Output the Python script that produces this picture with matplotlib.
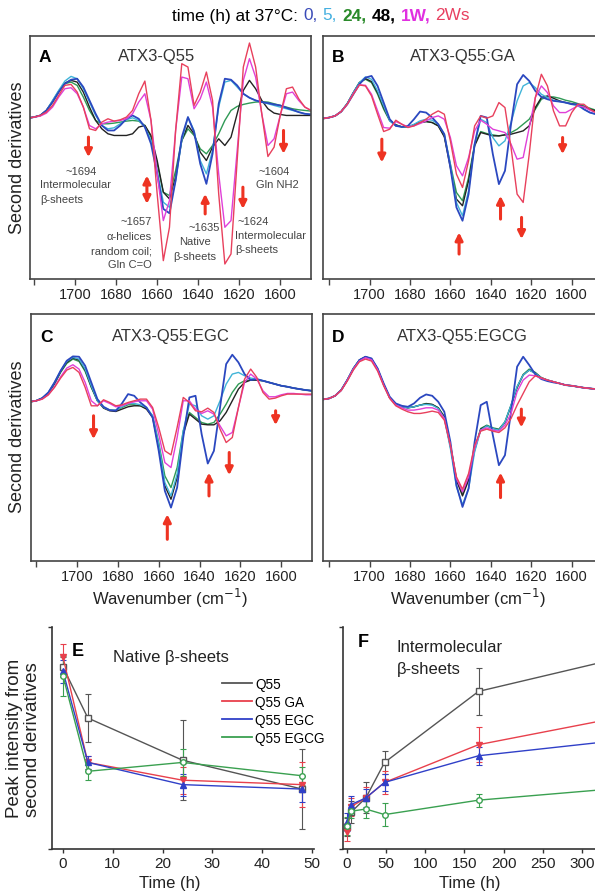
import numpy as np
import matplotlib
matplotlib.use("Agg")
import matplotlib.pyplot as plt
from matplotlib.lines import Line2D

plt.rcParams['font.family'] = ['Liberation Sans', 'DejaVu Sans']

# ---------------- data ----------------
# second-derivative spectra (arbitrary units, baseline = 0)
wavenumber = np.arange(1723, 1584, -3)   # 1723 ... 1585 cm-1
times = ['0', '5', '24', '48', '1W', '2Ws']

A_0h  = [-3, 0,5,20,45,75,100,112,115,90,50, 10,-25,-40,-40,-25,-5,5,-5,-30,-80, -170,-275,-288,-190,-60,0,-45,-140,-200,-110, 40,115,112,95,70,58,50,45,42,38, 35,28,22,15,10,8]
A_5h  = [-3, 0,5,20,50,80,108,122,115,85,45, 5,-25,-35,-32,-20,-8,-2,-10,-30,-70, -160,-255,-270,-190,-70,0,-40,-130,-170,-100, 30,105,110,90,70,58,50,45,40,35, 30,25,20,15,10,8]
A_24h = [-3, 0,5,20,45,75,100,105,95,60,20, -10,-20,-20,-18,-15,-12,-10,-12,-25,-60, -140,-225,-235,-160,-70,-35,-55,-95,-110,-85, -50,-10,20,32,38,42,45,46,45,40, 35,30,25,22,20,18]
A_48h = [-3, 0,5,20,48,78,102,110,105,75,30, -10,-35,-50,-55,-55,-55,-50,-30,-25,-55, -130,-225,-245,-180,-70,-25,-50,-105,-130,-90, -65,-85,-60,10,80,110,85,50,25,12, 8,5,5,5,5,5]
A_1W  = [-3, 0,3,12,30,60,85,88,70,30,-25, -35,-20,-15,-12,-10,-5,10,45,70,-10, -170,-310,-250,-40,120,115,25,55,105,30, -170,-330,-310,-100,110,175,120,10,-85,-65, 5,70,75,50,30,20]
A_2Ws = [-3, 0,5,15,35,65,95,98,75,30,-35, -40,-15,-5,-12,-8,0,20,70,108,-10, -230,-430,-330,-40,160,150,35,75,135,50, -230,-440,-410,-130,150,222,150,10,-118,-90, 5,85,90,55,30,20]

B_0h  = [-3, 0,5,18,40,70,100,120,125,95,45, -5,-25,-28,-25,-5,18,15,0,-20,-50, -150,-270,-310,-230,-80,5,0,-110,-200,-160, -20,100,128,110,80,62,55,50,48,45, 40,40,25,15,10,5]
B_5h  = [-3, 0,5,18,42,75,105,122,115,80,35, -10,-25,-28,-28,-20,-10,-5,-8,-20,-50, -140,-255,-295,-220,-80,-5,-15,-60,-85,-70, -15,50,95,105,90,70,60,52,48,45, 40,35,25,15,10,5]
B_24h = [-3, 0,5,18,42,75,105,115,105,70,25, -10,-22,-28,-28,-22,-15,-12,-15,-25,-55, -140,-225,-250,-180,-80,-42,-48,-52,-55,-52, -45,-35,-20,-5,25,55,62,62,58,52, 48,42,35,28,22,15]
B_48h = [-3, 0,5,18,42,75,105,117,108,75,30, -8,-22,-28,-28,-22,-15,-12,-15,-25,-58, -150,-245,-265,-190,-85,-45,-50,-55,-55,-52, -50,-45,-40,-25,30,60,65,58,50,45, 42,38,32,25,20,15]
B_1W  = [-3, 0,5,18,40,72,98,97,70,20,-30, -32,-12,-20,-28,-25,-18,-10,0,5,-5, -60,-145,-175,-120,-40,-8,-20,-35,-40,-45, -80,-125,-120,-30,60,95,75,35,15,15, 25,35,32,22,15,10]
B_2Ws = [-3, 0,5,18,40,70,98,95,65,10,-42, -35,-8,-20,-30,-25,-15,-5,10,20,10, -70,-170,-210,-130,-25,5,-2,5,45,30, -90,-230,-255,-110,60,130,95,20,-25,-25, 15,40,40,25,15,10]

C_0h  = [-3, 0,8,25,55,90,120,133,132,105,55, 5,-18,-28,-30,-8,20,15,-5,-20,-50, -150,-270,-320,-260,-110,10,15,-100,-188,-150, -20,110,138,115,80,62,65,60,55,50, 45,42,38,35,32,30]
C_5h  = [-3, 0,8,25,55,90,118,130,125,95,45, 0,-20,-28,-28,-18,-8,-8,-12,-20,-45, -130,-245,-285,-220,-90,-10,-15,-45,-55,-45, 0,50,80,85,75,68,65,60,55,50, 45,42,38,35,32,30]
C_24h = [-3, 0,8,22,50,85,112,125,118,88,40, 0,-20,-28,-28,-20,-12,-12,-15,-22,-45, -125,-225,-260,-200,-90,-35,-50,-65,-70,-65, -40,-10,25,50,60,62,62,60,55,50, 45,42,38,35,32,30]
C_48h = [-3, 0,8,24,52,88,115,128,122,92,42, 0,-22,-30,-32,-25,-18,-15,-15,-25,-50, -140,-255,-295,-230,-100,-40,-55,-70,-72,-72, -60,-35,0,35,55,62,62,60,55,50, 45,42,38,35,32,30]
C_1W  = [-3, 0,5,18,42,72,98,108,95,55,0, -15,0,-8,-18,-15,-8,-3,0,0,-25, -100,-185,-200,-110,0,0,-25,-38,-30,-40, -75,-105,-95,-20,55,80,65,30,12,12, 18,22,22,20,18,18]
C_2Ws = [-3, 0,5,18,40,68,92,100,85,40,-15, -15,3,-5,-15,-12,-5,0,5,5,-20, -80,-150,-162,-80,10,-5,-30,-33,-22,-35, -85,-125,-110,-20,65,95,70,25,5,8, 15,20,20,20,20,20]

D_0h  = [-3, 0,8,25,55,88,115,125,120,90,45, 5,-15,-22,-25,-15,2,12,8,-10,-40, -130,-260,-325,-270,-130,-20,-10,-110,-200,-170, -40,95,125,100,72,58,52,48,45,40, 38,35,32,30,28,27]
D_5h  = [-3, 0,8,25,55,90,115,124,118,88,42, 2,-18,-25,-28,-25,-20,-18,-20,-30,-60, -150,-265,-318,-270,-160,-95,-82,-90,-95,-70, -20,35,70,85,75,62,55,50,45,40, 38,35,32,30,28,27]
D_24h = [-3, 0,8,25,55,90,115,124,118,88,42, 2,-18,-25,-28,-25,-20,-15,-18,-28,-55, -140,-240,-287,-240,-150,-90,-80,-88,-92,-70, -20,35,72,88,78,62,55,50,45,40, 38,35,32,30,28,27]
D_48h = [-3, 0,8,25,55,90,115,125,118,88,42, 2,-18,-25,-28,-25,-20,-16,-18,-28,-55, -145,-245,-292,-245,-155,-92,-82,-90,-94,-72, -22,32,70,85,76,62,55,50,45,40, 38,35,32,30,28,27]
D_1W  = [-3, 0,8,24,54,88,112,122,116,86,40, 1,-20,-28,-35,-35,-32,-28,-28,-35,-60, -140,-240,-280,-235,-148,-95,-88,-95,-98,-80, -45,20,55,70,68,60,55,50,45,40, 38,35,32,30,28,27]
D_2Ws = [-3, 0,8,24,52,85,110,118,112,82,38, 0,-22,-32,-40,-45,-45,-42,-38,-42,-65, -140,-235,-272,-225,-140,-98,-92,-98,-102,-88, -60,-20,15,50,68,62,55,50,45,40, 38,35,32,30,28,27]

# peak intensities vs time
time_E = [0, 5, 24, 48]
E_Q55 = [0.82, 0.59, 0.40, 0.27];   E_Q55_err = [0.045, 0.11, 0.18, 0.18]
E_GA = [0.865, 0.39, 0.31, 0.29];   E_GA_err = [0.06, 0.03, 0.06, 0.10]
E_EGC = [0.80, 0.39, 0.29, 0.27];   E_EGC_err = [0.05, 0.03, 0.05, 0.06]
E_EGCG = [0.78, 0.35, 0.39, 0.33];  E_EGCG_err = [0.09, 0.04, 0.06, 0.04]

time_F = [0, 5, 24, 48, 168, 336]
F_Q55 = [0.10, 0.165, 0.23, 0.39, 0.71, 0.85];   F_Q55_err = [0.04, 0.05, 0.07, 0.05, 0.105, 0.10]
F_GA = [0.075, 0.19, 0.23, 0.30, 0.47, 0.585];   F_GA_err = [0.04, 0.04, 0.05, 0.05, 0.08, 0.08]
F_EGC = [0.12, 0.20, 0.23, 0.30, 0.42, 0.485];   F_EGC_err = [0.04, 0.04, 0.04, 0.04, 0.04, 0.05]
F_EGCG = [0.105, 0.17, 0.18, 0.155, 0.22, 0.27]; F_EGCG_err = [0.04, 0.03, 0.04, 0.05, 0.03, 0.03]

sample_names = ['Q55', 'Q55 GA', 'Q55 EGC', 'Q55 EGCG']

# ---------------- style ----------------
spec_colors = {'0': '#2b48c0', '5': '#40b4d8', '24': '#2f9a55', '48': '#222222',
               '1W': '#e040d8', '2Ws': '#e8405c'}
draw_order = ['24', '48', '5', '0', '1W', '2Ws']
sample_colors = ['#555555', '#e8404c', '#3040c8', '#3aa050']
sample_markers = ['s', 'v', '^', 'o']
sample_fill = ['white', None, None, 'white']
RED = '#ee3322'
TXT = '#222222'

W, H = 595, 895
fig = plt.figure(figsize=(W / 100, H / 100), dpi=100)


def px_axes(l, t, r, b):
    return fig.add_axes([l / W, 1 - b / H, (r - l) / W, (b - t) / H])


def ftext(x, y, s, **kw):
    kw.setdefault('color', TXT)
    return fig.text(x / W, 1 - y / H, s, **kw)


def arrow(ax, w, v_tail, v_head, style='-|>'):
    ax.annotate('', xy=(w, v_head), xytext=(w, v_tail),
                arrowprops=dict(arrowstyle=style, color=RED, lw=2.2,
                                mutation_scale=11, shrinkA=0, shrinkB=0))


def spectrum_panel(box, data, xlim, ylim, letter, title, title_x, text_y):
    ax = px_axes(*box)
    for k in draw_order:
        ax.plot(wavenumber, data[k], color=spec_colors[k],
                lw=1.3 if k == '0' else 1.0, solid_joinstyle='round')
    ax.set_xlim(*xlim)
    ax.set_ylim(*ylim)
    ax.set_yticks([])
    ax.set_xticks([1720, 1700, 1680, 1660, 1640, 1620, 1600])
    ax.set_xticklabels(['', '1700', '1680', '1660', '1640', '1620', '1600'])
    ax.tick_params(axis='x', direction='out', length=4, width=1, pad=1.5,
                   labelsize=10.5, color='#444444', labelcolor=TXT)
    for s in ax.spines.values():
        s.set_color('#444444')
        s.set_linewidth(1.2)
    ftext(box[0] + 9, text_y, letter, fontsize=12.5, fontweight='bold',
          color='black', va='center')
    ftext(title_x, text_y, title, fontsize=12, ha='center', va='center',
          color='#333333')
    return ax


sets = {
    'A': dict(zip(times, [A_0h, A_5h, A_24h, A_48h, A_1W, A_2Ws])),
    'B': dict(zip(times, [B_0h, B_5h, B_24h, B_48h, B_1W, B_2Ws])),
    'C': dict(zip(times, [C_0h, C_5h, C_24h, C_48h, C_1W, C_2Ws])),
    'D': dict(zip(times, [D_0h, D_5h, D_24h, D_48h, D_1W, D_2Ws])),
}

axA = spectrum_panel((30, 37, 311, 280), sets['A'], (1722, 1585), (-485, 243),
                     'A', 'ATX3-Q55', 157, 57)
axB = spectrum_panel((323, 37, 600, 280), sets['B'], (1723, 1586), (-485, 245),
                     'B', 'ATX3-Q55:GA', 463, 57)
axC = spectrum_panel((31, 315, 312, 562), sets['C'], (1722.5, 1585), (-480, 260),
                     'C', 'ATX3-Q55:EGC', 171, 337)
axD = spectrum_panel((323, 315, 600, 562), sets['D'], (1723, 1586), (-487, 253),
                     'D', 'ATX3-Q55:EGCG', 462, 337)

# red arrows
arrow(axA, 1693.5, -60, -120)
arrow(axA, 1665, -175, -260, style='<|-|>')
arrow(axA, 1636.6, -290, -230)
arrow(axA, 1618.2, -210, -275)
arrow(axA, 1598.4, -40, -110)

arrow(axB, 1693.9, -65, -135)
arrow(axB, 1655.7, -410, -345)
arrow(axB, 1635.2, -305, -235)
arrow(axB, 1624.8, -300, -365)
arrow(axB, 1604.5, -60, -110)

arrow(axC, 1691.9, -45, -115)
arrow(axC, 1655.8, -415, -340)
arrow(axC, 1635.4, -285, -215)
arrow(axC, 1625.5, -155, -223)
arrow(axC, 1602.8, -30, -73)

arrow(axD, 1624.9, -32, -87)
arrow(axD, 1635.2, -297, -222)

# band annotations in A
ann = dict(fontsize=8, color='#444444', va='center')
ftext(81, 172, '~1694', ha='center', **ann)
ftext(40, 185, 'Intermolecular', ha='left', **ann)
ftext(40, 200, 'β-sheets', ha='left', **ann)
ftext(152, 222, '~1657', ha='right', **ann)
ftext(152, 237, 'α-helices', ha='right', **ann)
ftext(152, 252, 'random coil;', ha='right', **ann)
ftext(152, 265, 'Gln C=O', ha='right', **ann)
ftext(204, 228, '~1635', ha='center', **ann)
ftext(195, 242, 'Native', ha='center', **ann)
ftext(195, 257, 'β-sheets', ha='center', **ann)
ftext(238, 222, '~1624', ha='left', **ann)
ftext(235, 236, 'Intermolecular', ha='left', **ann)
ftext(235, 250, 'β-sheets', ha='left', **ann)
ftext(274, 172, '~1604', ha='center', **ann)
ftext(277, 185, 'Gln NH2', ha='center', **ann)

# axis labels of spectra
ftext(18, 158, 'Second derivatives', rotation=90, ha='center', va='center', fontsize=13)
ftext(18, 437, 'Second derivatives', rotation=90, ha='center', va='center', fontsize=13)
ftext(170, 598, 'Wavenumber (cm$^{-1}$)', ha='center', va='center', fontsize=12)
ftext(468, 598, 'Wavenumber (cm$^{-1}$)', ha='center', va='center', fontsize=12)

# multicolour header
pieces = [('time (h) at 37°C:', 'black', 'normal'), ('0,', '#3a4bb8', 'normal'),
          ('5,', '#45b0e0', 'normal'), ('24,', '#2a8a2a', 'bold'),
          ('48,', 'black', 'bold'), ('1W,', '#e030e0', 'bold'),
          ('2Ws', '#e84060', 'normal')]
renderer = fig.canvas.get_renderer()
x = 172
hsize = 12.4
gap = hsize * 0.3 * 100 / 72
for s, c, wt in pieces:
    t = ftext(x, 16, s, color=c, fontweight=wt, fontsize=hsize, ha='left', va='center')
    x += t.get_window_extent(renderer).width + gap


# ---------------- kinetics panels ----------------
def kinetics_panel(box, t, ys, errs, xlim, xticks):
    ax = px_axes(*box)
    for i in range(4):
        ax.errorbar(t, ys[i], yerr=errs[i], color=sample_colors[i], lw=1.0,
                    marker=sample_markers[i], ms=4,
                    mfc=sample_fill[i] if sample_fill[i] else sample_colors[i],
                    mec=sample_colors[i], elinewidth=0.8, capsize=2, capthick=0.8)
    ax.set_xlim(*xlim)
    ax.set_ylim(0, 1)
    ax.set_xticks(xticks)
    ax.set_yticks([0, 1])
    ax.set_yticklabels([])
    ax.spines['top'].set_visible(False)
    ax.spines['right'].set_visible(False)
    for s in ('left', 'bottom'):
        ax.spines[s].set_color('#333333')
        ax.spines[s].set_linewidth(1.2)
    ax.tick_params(direction='out', length=3, width=1, labelsize=11,
                   color='#333333', labelcolor=TXT, pad=2)
    return ax


axE = kinetics_panel((52, 628, 314, 850), time_E,
                     [E_Q55, E_GA, E_EGC, E_EGCG],
                     [E_Q55_err, E_GA_err, E_EGC_err, E_EGCG_err],
                     (-2.2, 50.4), [0, 10, 20, 30, 40, 50])
axF = kinetics_panel((343, 628, 600, 850), time_F,
                     [F_Q55, F_GA, F_EGC, F_EGCG],
                     [F_Q55_err, F_GA_err, F_EGC_err, F_EGCG_err],
                     (-5.1, 323), [0, 50, 100, 150, 200, 250, 300])

handles = [Line2D([], [], color=c, lw=1.3) for c in sample_colors]
leg = axE.legend(handles, sample_names, loc='upper left',
                 bbox_to_anchor=(0.65, 0.775), frameon=False, fontsize=9.8,
                 handlelength=2.2, handletextpad=0.2, labelspacing=0.3,
                 borderpad=0, borderaxespad=0)
leg.set_clip_on(False)

ftext(72, 652, 'E', fontsize=13, fontweight='bold', color='black', va='center')
ftext(113, 658, 'Native β-sheets', fontsize=12, va='center')
ftext(358, 643, 'F', fontsize=13, fontweight='bold', color='black', va='center')
ftext(397, 648, 'Intermolecular', fontsize=12, va='center')
ftext(397, 670, 'β-sheets', fontsize=12, va='center')

ftext(15, 738, 'Peak intensity from', rotation=90, ha='center', va='center', fontsize=13.5)
ftext(33, 740, 'second derivatives', rotation=90, ha='center', va='center', fontsize=13.5)
ftext(170, 884, 'Time (h)', ha='center', va='center', fontsize=12)
ftext(470, 884, 'Time (h)', ha='center', va='center', fontsize=12)

fig.savefig('out.png', dpi=100)
